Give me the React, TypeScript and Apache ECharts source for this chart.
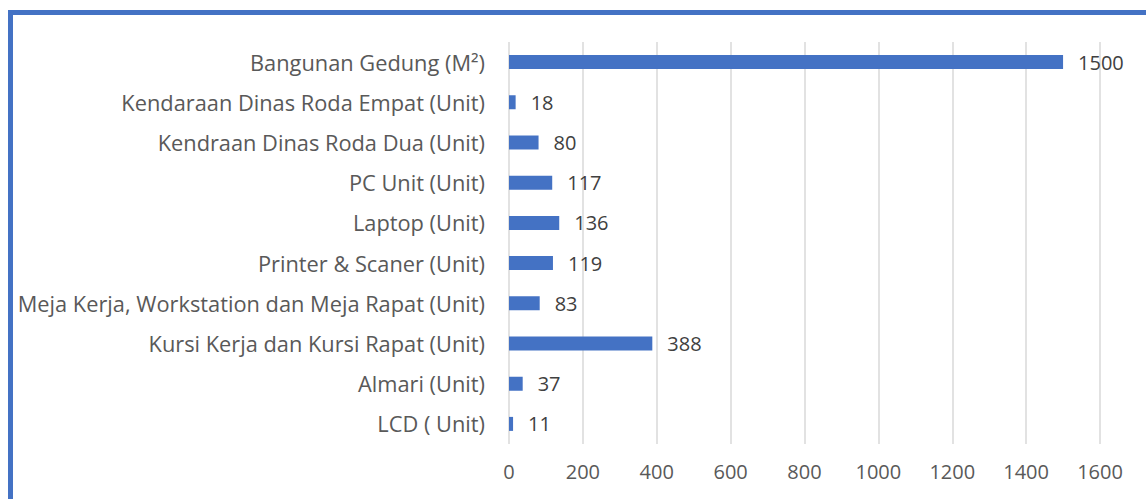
import React, { useEffect, useRef } from "react";
import * as echarts from "echarts";

const categories = [
  "Bangunan Gedung (M²)",
  "Kendaraan Dinas Roda Empat (Unit)",
  "Kendraan Dinas Roda Dua (Unit)",
  "PC Unit (Unit)",
  "Laptop (Unit)",
  "Printer & Scaner (Unit)",
  "Meja Kerja, Workstation dan Meja Rapat (Unit)",
  "Kursi Kerja dan Kursi Rapat (Unit)",
  "Almari (Unit)",
  "LCD ( Unit)",
];
const values = [1500, 18, 80, 117, 136, 119, 83, 388, 37, 11];
const xTicks = [0, 200, 400, 600, 800, 1000, 1200, 1400, 1600];

export default function App() {
  const ref = useRef<HTMLDivElement>(null);
  useEffect(() => {
    const chart = echarts.init(ref.current!, undefined, { renderer: "svg" });
    const font = "'Open Sans', 'Noto Sans', sans-serif";
    chart.setOption({
      animation: false,
      backgroundColor: "#ffffff",
      textStyle: { fontFamily: font },
      graphic: [
        { type: "rect", shape: { x: 8, y: 10, width: 1200, height: 5 }, style: { fill: "#4472C4" } },
        { type: "rect", shape: { x: 8, y: 10, width: 5, height: 500 }, style: { fill: "#4472C4" } },
      ],
      grid: { left: 509, right: 46, top: 42, bottom: 55, containLabel: false },
      xAxis: {
        type: "value",
        min: xTicks[0],
        max: xTicks[xTicks.length - 1],
        interval: 200,
        axisLine: { show: false },
        axisTick: { show: false },
        splitLine: { lineStyle: { color: "#d9d9d9", width: 1.5 } },
        axisLabel: {
          color: "#595959",
          fontSize: 20,
          margin: 17,
          fontFamily: font,
          formatter: (v: number) => String(v),
        },
      },
      yAxis: {
        type: "category",
        inverse: true,
        data: categories,
        axisLine: { show: false },
        axisTick: { show: false },
        axisLabel: { color: "#595959", fontSize: 21.8, margin: 24, fontFamily: font },
      },
      series: [
        {
          type: "bar",
          data: values,
          barWidth: 14,
          itemStyle: { color: "#4472C4" },
          label: {
            show: true,
            position: "right",
            distance: 15,
            color: "#404040",
            fontSize: 20,
            fontFamily: font,
          },
        },
      ],
    });
    return () => chart.dispose();
  }, []);
  return <div ref={ref} style={{ width: 1146, height: 499, position: "absolute", left: 0, top: 0 }} />;
}
